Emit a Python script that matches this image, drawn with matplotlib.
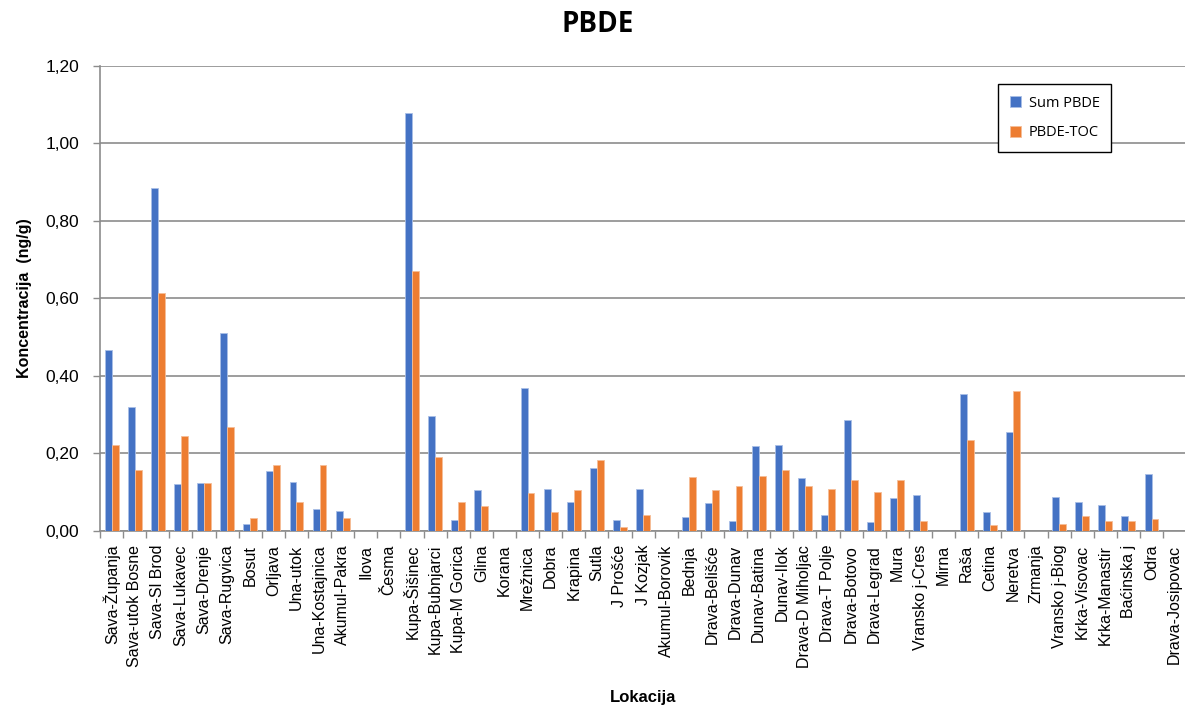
import matplotlib

matplotlib.use("Agg")
import matplotlib.pyplot as plt
import numpy as np
from matplotlib.ticker import FixedLocator, FuncFormatter, MultipleLocator

locations = [
    "Sava-Županja", "Sava-utok Bosne", "Sava-Sl Brod", "Sava-Lukavec", "Sava-Drenje",
    "Sava-Rugvica", "Bosut", "Orljava", "Una-utok", "Una-Kostajnica", "Akumul-Pakra",
    "Ilova", "Česma", "Kupa-Šišinec", "Kupa-Bubnjarci", "Kupa-M Gorica", "Glina",
    "Korana", "Mrežnica", "Dobra", "Krapina", "Sutla", "J Prošće", "J Kozjak",
    "Akumul-Borovik", "Bednja", "Drava-Belišće", "Drava-Dunav", "Dunav-Batina",
    "Dunav-Ilok", "Drava-D Miholjac", "Drava-T Polje", "Drava-Botovo", "Drava-Legrad",
    "Mura", "Vransko j-Cres", "Mirna", "Raša", "Cetina", "Neretva", "Zrmanja",
    "Vransko j-Biog", "Krka-Visovac", "Krka-Manastir", "Baćinska j", "Odra",
    "Drava-Josipovac",
]

sum_pbde = [
    0.467, 0.320, 0.885, 0.120, 0.124, 0.511, 0.018, 0.154, 0.127, 0.056, 0.052,
    0.0, 0.0, 1.078, 0.297, 0.029, 0.105, 0.0, 0.368, 0.108, 0.075, 0.162, 0.029,
    0.108, 0.0, 0.037, 0.071, 0.026, 0.219, 0.222, 0.136, 0.041, 0.286, 0.022,
    0.086, 0.094, 0.0, 0.354, 0.048, 0.256, 0.0, 0.087, 0.075, 0.067, 0.038,
    0.147, 0.0,
]

pbde_toc = [
    0.222, 0.157, 0.614, 0.244, 0.124, 0.268, 0.034, 0.169, 0.075, 0.169, 0.034,
    0.0, 0.0, 0.670, 0.191, 0.075, 0.064, 0.0, 0.097, 0.048, 0.105, 0.184, 0.010,
    0.041, 0.0, 0.139, 0.105, 0.116, 0.143, 0.158, 0.116, 0.108, 0.132, 0.101,
    0.132, 0.026, 0.0, 0.234, 0.015, 0.361, 0.0, 0.018, 0.038, 0.026, 0.026,
    0.030, 0.0,
]

BLUE = "#4472C4"
ORANGE = "#ED7D31"
GRID = "#8C8C8C"

fig = plt.figure(figsize=(11.85, 7.11), dpi=100)
ax = fig.add_axes([0.0844, 0.2532, 0.9166, 0.654])

x = np.arange(len(locations))
w = 0.3
ax.bar(x - w / 2, sum_pbde, w, color=BLUE, edgecolor="#A9BEE6", linewidth=0.6,
       label="Sum PBDE", zorder=3)
ax.bar(x + w / 2, pbde_toc, w, color=ORANGE, edgecolor="#F6BE98", linewidth=0.6,
       label="PBDE-TOC", zorder=3)

# axes
ax.set_xlim(-0.5, len(locations) - 0.5)
ax.set_ylim(0, 1.2)
ax.yaxis.set_major_locator(MultipleLocator(0.2))
ax.yaxis.set_major_formatter(FuncFormatter(lambda v, p: f"{v:.2f}".replace(".", ",")))
ax.grid(axis="y", color=GRID, linewidth=1.2, zorder=0)

ax.set_xticks(x)
ax.set_xticklabels(locations, rotation=90, fontsize=11.5, family="Liberation Sans")
ax.tick_params(axis="x", which="major", length=0, pad=10)
ax.xaxis.set_minor_locator(FixedLocator(np.arange(-0.5, len(locations), 1.0)))
ax.tick_params(axis="x", which="minor", length=5, color=GRID, width=1)
ax.tick_params(axis="y", length=5, color=GRID, width=1, labelsize=12.5, pad=10)
for t in ax.get_yticklabels():
    t.set_family("Liberation Sans")

for side in ("top", "right"):
    ax.spines[side].set_visible(False)
for side in ("left", "bottom"):
    ax.spines[side].set_color(GRID)
    ax.spines[side].set_linewidth(1.2)

ax.set_ylabel("Koncentracija  (ng/g)", fontsize=11.5, fontweight="bold",
              family="Liberation Sans", labelpad=10)
ax.set_xlabel("Lokacija", fontsize=12, fontweight="bold", family="Liberation Sans",
              labelpad=16)
fig.text(0.504, 0.966, "PBDE", ha="center", va="center", fontsize=20,
         fontweight="bold", family="Open Sans")

leg = ax.legend(loc="upper left", bbox_to_anchor=(0.82, 0.977), frameon=True,
                fancybox=False, edgecolor="black", framealpha=1,
                prop={"family": "Open Sans", "size": 10.5},
                handlelength=0.8, handleheight=0.8, labelspacing=1.0,
                borderpad=0.8, handletextpad=0.5)
leg.get_frame().set_linewidth(1.0)

fig.savefig("out.png", dpi=100)
